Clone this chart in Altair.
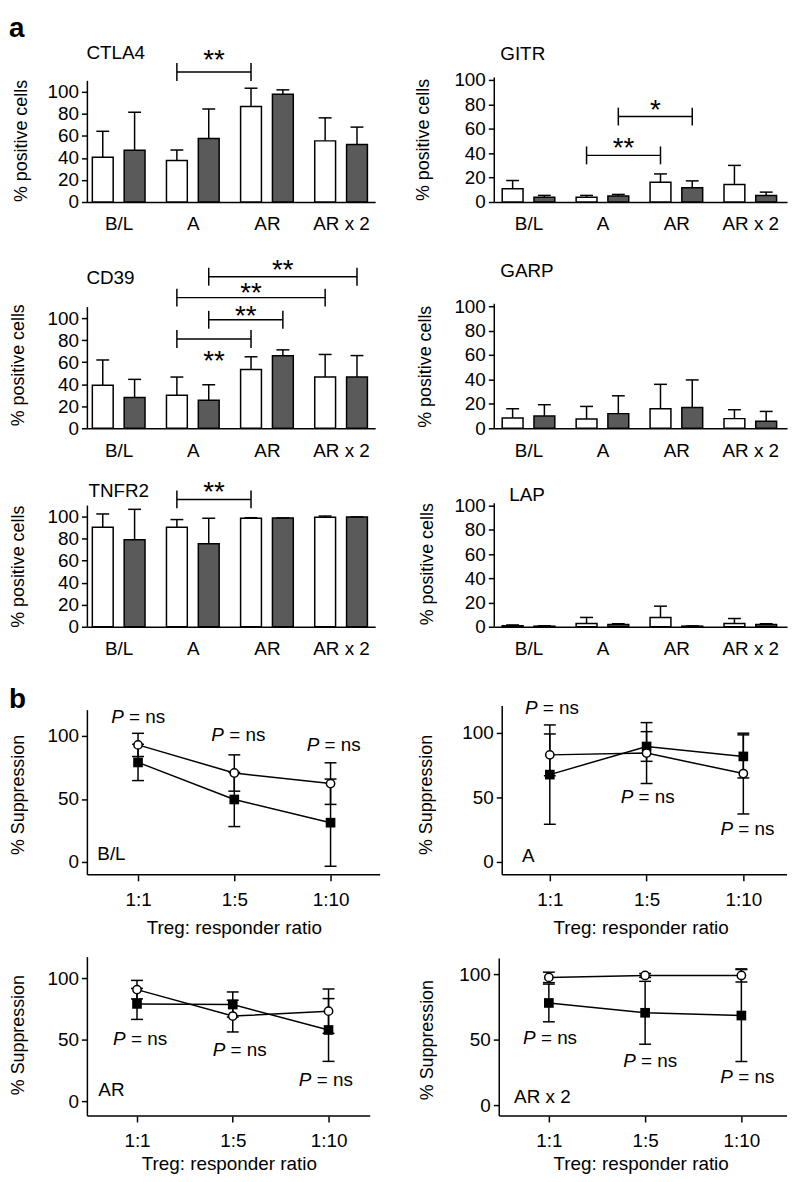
import json
import altair as alt
import pandas as pd

FONT = "Liberation Sans"
GREY = "#5a5a5a"
GROUPS = ["B/L", "A", "AR", "AR x 2"]
RATIOS = ["1:1", "1:5", "1:10"]

# ---------------- panel a: % positive cells (mean, SD); white bar then grey bar
CTLA4_WHITE = [40.6, 37.6, 86.6, 55.5]
CTLA4_WHITE_SD = [23.6, 9.6, 16.7, 20.9]
CTLA4_GREY = [46.9, 57.6, 97.9, 52.2]
CTLA4_GREY_SD = [34.6, 26.9, 3.9, 15.8]

GITR_WHITE = [10.8, 3.8, 16.2, 14.3]
GITR_WHITE_SD = [6.8, 1.6, 6.8, 15.7]
GITR_GREY = [3.8, 4.9, 11.6, 5.4]
GITR_GREY_SD = [1.6, 1.3, 5.7, 2.7]

CD39_WHITE = [39.0, 30.0, 53.4, 46.5]
CD39_WHITE_SD = [23.0, 16.5, 11.5, 20.5]
CD39_GREY = [28.0, 25.5, 65.8, 46.5]
CD39_GREY_SD = [16.4, 14.1, 5.4, 19.5]

GARP_WHITE = [8.4, 7.6, 16.0, 7.9]
GARP_WHITE_SD = [7.6, 10.3, 20.0, 7.3]
GARP_GREY = [10.0, 12.0, 17.0, 5.7]
GARP_GREY_SD = [9.3, 14.6, 22.6, 8.1]

TNFR2_WHITE = [90.4, 90.4, 98.5, 99.4]
TNFR2_WHITE_SD = [12.0, 6.9, 0.5, 1.1]
TNFR2_GREY = [79.0, 75.4, 98.8, 99.7]
TNFR2_GREY_SD = [27.6, 23.1, 0.0, 0.0]

LAP_WHITE = [0.8, 2.7, 7.7, 2.7]
LAP_WHITE_SD = [0.7, 5.0, 9.3, 4.1]
LAP_GREY = [0.5, 1.9, 0.5, 1.9]
LAP_GREY_SD = [0.3, 0.6, 0.2, 0.6]

# significance brackets: (from group, bar, to group, bar, bracket y, label, label y)
CTLA4_BRACKETS = [("A", "white", "AR", "white", 118, "**", 135)]
GITR_BRACKETS = [("A", "white", "AR", "white", 38.2, "**", 49.6),
                 ("A", "grey", "AR", "grey", 70, "*", 81.3)]
CD39_BRACKETS = [("A", "grey", "AR x 2", "grey", 137.6, "**", 149.5),
                 ("A", "white", "AR x 2", "white", 118.6, "**", 128.6),
                 ("A", "grey", "AR", "grey", 98.5, "**", 108),
                 ("A", "white", "AR", "white", 81, "**", 67)]
TNFR2_BRACKETS = [("A", "white", "AR", "white", 115.6, "**", 128.6)]
NO_BRACKETS = []

# ---------------- panel b: % suppression (mean, SD); open circles and filled squares
BL_CIRCLE = [92.9, 70.6, 62.2]
BL_CIRCLE_SD = [9.2, 14.4, 16.5]
BL_SQUARE = [79.0, 49.6, 31.2]
BL_SQUARE_SD = [14.4, 21.5, 34.6]

A_CIRCLE = [83.0, 84.4, 68.5]
A_CIRCLE_SD = [16.2, 23.6, 31.3]
A_SQUARE = [67.7, 89.5, 81.8]
A_SQUARE_SD = [38.5, 11.5, 16.7]

AR_CIRCLE = [90.6, 69.1, 73.1]
AR_CIRCLE_SD = [7.5, 12.9, 18.0]
AR_SQUARE = [79.0, 78.5, 57.8]
AR_SQUARE_SD = [12.6, 10.2, 25.5]

AR2_CIRCLE = [97.5, 99.0, 99.0]
AR2_CIRCLE_SD = [4.0, 1.5, 5.0]
AR2_SQUARE = [78.0, 70.5, 68.4]
AR2_SQUARE_SD = [14.4, 24.0, 35.1]

# "P = ns" annotation positions (ratio index, % suppression)
BL_P = [(0.0, 115.2), (1.04, 100.5), (2.03, 93.1)]
A_P = [(0.02, 119.0), (1.01, 50.0), (2.04, 25.4)]
AR_P = [(0.03, 50.2), (1.07, 41.7), (1.97, 17.2)]
AR2_P = [(0.01, 51.5), (1.05, 34.0), (2.06, 21.2)]

OFF = 16 / 74.5   # half spacing of paired bars, in group units
BLACK = "black"
LETTER_DX = -79   # panel letters sit this far (px) left of the y axis


def label_expr(labels):
    return json.dumps(labels) + "[datum.value]"


def bar_panel(white, white_sd, grey, grey_sd, brackets, title, title_off, title_val,
              width, height, ppu, xmin, step, axis_top, title_x, title_y,
              letter=None, letter_val=None, anchor_val=None):
    ymax = height / ppu
    xmax = xmin + width / step
    xs = alt.Scale(domain=[xmin, xmax], nice=False, zero=False, padding=0)
    ys = alt.Scale(domain=[0, ymax], nice=False, zero=False, padding=0)

    x_axis = alt.Axis(values=[0, 1, 2, 3], labelExpr=label_expr(GROUPS), ticks=False, tickSize=0,
                      labelPadding=13, title=None, grid=False, domainWidth=1.5, domainColor=BLACK)
    y_axis = alt.Axis(values=[0, 20, 40, 60, 80, 100], domain=False, tickSize=6, tickWidth=1.5,
                      labelPadding=3, title="% positive cells", titleX=title_x, titleY=title_y,
                      titleBaseline="middle", grid=False)

    def X(f):
        return alt.X(f, type="quantitative", scale=xs, axis=x_axis)

    def Y(f):
        return alt.Y(f, type="quantitative", scale=ys, axis=y_axis)

    rows = []
    for i in range(len(GROUPS)):
        rows.append({"pos": i - OFF, "mean": white[i], "top": white[i] + white_sd[i], "series": "white"})
        rows.append({"pos": i + OFF, "mean": grey[i], "top": grey[i] + grey_sd[i], "series": "grey"})
    bdf = pd.DataFrame(rows)

    bars = alt.Chart(bdf).mark_bar(size=21, stroke=BLACK, strokeWidth=1.5, orient="vertical").encode(
        x=X("pos"),
        y=Y("mean"),
        y2=alt.datum(0),
        fill=alt.Fill("series:N", scale=alt.Scale(domain=["white", "grey"], range=["white", GREY]),
                      legend=None),
    )
    err = alt.Chart(bdf).mark_rule(color=BLACK, strokeWidth=1.5).encode(
        x=X("pos"), y=Y("mean"), y2="top:Q")
    caps = alt.Chart(bdf).mark_tick(orient="horizontal", size=13, thickness=1.5, color=BLACK,
                                    opacity=1).encode(x=X("pos"), y=Y("top"))
    ydf = pd.DataFrame({"a": [0], "b": [axis_top]})
    yline = alt.Chart(ydf).mark_rule(color=BLACK, strokeWidth=1.5).encode(
        x=alt.value(0), y=Y("a"), y2="b:Q")

    layers = [bars, err, caps, yline]

    if brackets:
        side = {"white": -OFF, "grey": OFF}
        cap = 9 / ppu
        brow = []
        for g1, s1, g2, s2, y, lab, ly in brackets:
            x1 = GROUPS.index(g1) + side[s1]
            x2 = GROUPS.index(g2) + side[s2]
            brow.append({"x1": x1, "x2": x2, "y": y, "ylo": y - cap, "yhi": y + cap,
                         "label": lab, "lx": (x1 + x2) / 2, "ly": ly})
        brdf = pd.DataFrame(brow)
        layers.append(alt.Chart(brdf).mark_rule(color=BLACK, strokeWidth=1.5).encode(
            x=X("x1"), x2="x2:Q", y=Y("y")))
        layers.append(alt.Chart(brdf).mark_rule(color=BLACK, strokeWidth=1.5).encode(
            x=X("x1"), y=Y("ylo"), y2="yhi:Q"))
        layers.append(alt.Chart(brdf).mark_rule(color=BLACK, strokeWidth=1.5).encode(
            x=X("x2"), y=Y("ylo"), y2="yhi:Q"))
        layers.append(alt.Chart(brdf).mark_text(fontSize=28, baseline="alphabetic", align="center",
                                                dy=16, color=BLACK).encode(
            x=X("lx"), y=Y("ly"), text="label:N"))

    tdf = pd.DataFrame({"x": [xmin + title_off / step], "y": [title_val], "t": [title]})
    layers.append(alt.Chart(tdf).mark_text(fontSize=19, align="left", baseline="middle",
                                           color=BLACK).encode(x=X("x"), y=Y("y"), text="t:N"))
    if letter:
        ldf = pd.DataFrame({"x": [xmin + LETTER_DX / step], "y": [letter_val], "t": [letter]})
        layers.append(alt.Chart(ldf).mark_text(fontSize=28, fontWeight="bold", align="left",
                                               baseline="alphabetic", color=BLACK).encode(
            x=X("x"), y=Y("y"), text="t:N"))
    if anchor_val is not None:
        # invisible layout anchor: fixes the top-left corner of the whole figure
        adf = pd.DataFrame({"x": [xmin + LETTER_DX / step], "x2": [xmin + (LETTER_DX + 2) / step],
                            "y": [anchor_val]})
        layers.append(alt.Chart(adf).mark_rule(opacity=0, strokeWidth=0.01).encode(
            x=X("x"), x2="x2:Q", y=Y("y")))
    return alt.layer(*layers).properties(width=width, height=height)


def line_panel(circle, circle_sd, square, square_sd, p_pos, label, label_off, label_val,
               width, height, ppu, ymin, xmin, step, axis_off, axis_top, title_x, title_y,
               title_pad, letter=None, letter_val=None):
    ymax = ymin + height / ppu
    xmax = xmin + width / step
    xs = alt.Scale(domain=[xmin, xmax], nice=False, zero=False, padding=0)
    ys = alt.Scale(domain=[ymin, ymax], nice=False, zero=False, padding=0)

    x_axis = alt.Axis(values=[0, 1, 2], labelExpr=label_expr(RATIOS), tickSize=6, tickWidth=1.5,
                      labelPadding=10, domain=False, title="Treg: responder ratio",
                      titleFontSize=19, titlePadding=title_pad, grid=False)
    y_axis = alt.Axis(values=[0, 50, 100], tickSize=6, tickWidth=1.5, labelPadding=3,
                      domain=False, offset=-axis_off, title="% Suppression", titleX=title_x,
                      titleY=title_y, titleBaseline="middle", grid=False)

    def X(f):
        return alt.X(f, type="quantitative", scale=xs, axis=x_axis)

    def Y(f):
        return alt.Y(f, type="quantitative", scale=ys, axis=y_axis)

    rows = []
    for i in range(len(RATIOS)):
        rows.append({"idx": i, "mean": circle[i], "lo": circle[i] - circle_sd[i],
                     "hi": circle[i] + circle_sd[i], "series": "open"})
        rows.append({"idx": i, "mean": square[i], "lo": square[i] - square_sd[i],
                     "hi": square[i] + square_sd[i], "series": "filled"})
    df = pd.DataFrame(rows)

    lines = alt.Chart(df).mark_line(color=BLACK, strokeWidth=1.5).encode(
        x=X("idx"), y=Y("mean"), detail="series:N")
    err = alt.Chart(df).mark_rule(color=BLACK, strokeWidth=1.5).encode(
        x=X("idx"), y=Y("lo"), y2="hi:Q")
    cap_lo = alt.Chart(df).mark_tick(orient="horizontal", size=12, thickness=1.5, color=BLACK,
                                     opacity=1).encode(x=X("idx"), y=Y("lo"))
    cap_hi = alt.Chart(df).mark_tick(orient="horizontal", size=12, thickness=1.5, color=BLACK,
                                     opacity=1).encode(x=X("idx"), y=Y("hi"))
    squares = alt.Chart(df).transform_filter(alt.datum.series == "filled").mark_point(
        shape="square", filled=True, size=95, color=BLACK, opacity=1).encode(
        x=X("idx"), y=Y("mean"))
    circles = alt.Chart(df).transform_filter(alt.datum.series == "open").mark_point(
        shape="circle", filled=True, fill="white", stroke=BLACK, strokeWidth=1.5, size=70,
        opacity=1).encode(x=X("idx"), y=Y("mean"))

    ydf = pd.DataFrame({"a": [ymin], "b": [axis_top]})
    yline = alt.Chart(ydf).mark_rule(color=BLACK, strokeWidth=1.5).encode(
        x=alt.value(axis_off), y=Y("a"), y2="b:Q")
    xline = alt.Chart(ydf).mark_rule(color=BLACK, strokeWidth=1.5).encode(
        x=alt.value(axis_off), x2=alt.value(width), y=alt.value(height))

    pdf = pd.DataFrame({"x": [p[0] for p in p_pos], "y": [p[1] for p in p_pos],
                        "p": ["P"] * len(p_pos), "ns": ["= ns"] * len(p_pos)})
    p_it = alt.Chart(pdf).mark_text(fontSize=19, fontStyle="italic", align="left",
                                    baseline="middle", dx=-27, color=BLACK).encode(
        x=X("x"), y=Y("y"), text="p:N")
    p_ns = alt.Chart(pdf).mark_text(fontSize=19, align="left", baseline="middle", dx=-9,
                                    color=BLACK).encode(x=X("x"), y=Y("y"), text="ns:N")

    tdf = pd.DataFrame({"x": [xmin + (axis_off + label_off) / step], "y": [label_val],
                        "t": [label]})
    lab = alt.Chart(tdf).mark_text(fontSize=19, align="left", baseline="middle",
                                   color=BLACK).encode(x=X("x"), y=Y("y"), text="t:N")

    layers = [lines, err, cap_lo, cap_hi, squares, circles, yline, xline, p_it, p_ns, lab]
    if letter:
        ldf = pd.DataFrame({"x": [xmin + LETTER_DX / step], "y": [letter_val], "t": [letter]})
        layers.append(alt.Chart(ldf).mark_text(fontSize=28, fontWeight="bold", align="left",
                                               baseline="alphabetic", color=BLACK).encode(
            x=X("x"), y=Y("y"), text="t:N"))
    return alt.layer(*layers).properties(width=width, height=height)


panels = [
    bar_panel(CTLA4_WHITE, CTLA4_WHITE_SD, CTLA4_GREY, CTLA4_GREY_SD, CTLA4_BRACKETS,
              "CTLA4", -1, 135, 290, 168, 1.11, -0.422, 74.7, 110, -66, 106,
              letter="a", letter_val=149.5, anchor_val=171.2),
    bar_panel(GITR_WHITE, GITR_WHITE_SD, GITR_GREY, GITR_GREY_SD, GITR_BRACKETS,
              "GITR", 6, 121, 295, 168, 1.23, -0.463, 74.5, 102, -71, 105),
    bar_panel(CD39_WHITE, CD39_WHITE_SD, CD39_GREY, CD39_GREY_SD, CD39_BRACKETS,
              "CD39", -1, 136, 290, 228, 1.11, -0.422, 74.7, 110, -69, 164),
    bar_panel(GARP_WHITE, GARP_WHITE_SD, GARP_GREY, GARP_GREY_SD, NO_BRACKETS,
              "GARP", 6, 128.5, 295, 228, 1.23, -0.463, 74.5, 102, -69, 165.5),
    bar_panel(TNFR2_WHITE, TNFR2_WHITE_SD, TNFR2_GREY, TNFR2_GREY_SD, TNFR2_BRACKETS,
              "TNFR2", 1, 123, 290, 200, 1.11, -0.422, 74.7, 110, -69, 139),
    bar_panel(LAP_WHITE, LAP_WHITE_SD, LAP_GREY, LAP_GREY_SD, NO_BRACKETS,
              "LAP", 15, 109, 295, 200, 1.22, -0.463, 74.5, 102, -67.5, 136.5),
    line_panel(BL_CIRCLE, BL_CIRCLE_SD, BL_SQUARE, BL_SQUARE_SD, BL_P, "B/L", 10, 6.3,
               295, 250, 1.27, -10.2, -0.526, 97, 0, 120.5, -69, 169, 9,
               letter="b", letter_val=121.8),
    line_panel(A_CIRCLE, A_CIRCLE_SD, A_SQUARE, A_SQUARE_SD, A_P, "A", 20, 4.8,
               295, 250, 1.3, -10, -0.574, 97.5, 8, 120.8, -76, 169, 9),
    line_panel(AR_CIRCLE, AR_CIRCLE_SD, AR_SQUARE, AR_SQUARE_SD, AR_P, "AR", 11, 8.6,
               285, 243, 1.24, -12.1, -0.518, 96.5, 0, 117, -69, 161, 4),
    line_panel(AR2_CIRCLE, AR2_CIRCLE_SD, AR2_SQUARE, AR2_SQUARE_SD, AR2_P, "AR x 2", 15, 6.0,
               295, 243, 1.32, -8.3, -0.567, 97, 5, 112, -72, 166, 4),
]

chart = alt.concat(
    *panels, columns=2, spacing={"row": 0, "column": 115}, bounds="flush", align="each"
).properties(
    padding={"left": 0, "top": 0, "right": 2, "bottom": 2}
).configure_view(
    stroke="transparent"
).configure_axis(
    labelFont=FONT, titleFont=FONT, labelFontSize=19, titleFontSize=18, labelColor=BLACK,
    titleColor=BLACK, titleFontWeight="normal", tickColor=BLACK, domainColor=BLACK, grid=False
).configure_text(font=FONT)

chart.save("out.html", embed_options={"renderer": "svg", "actions": False})
